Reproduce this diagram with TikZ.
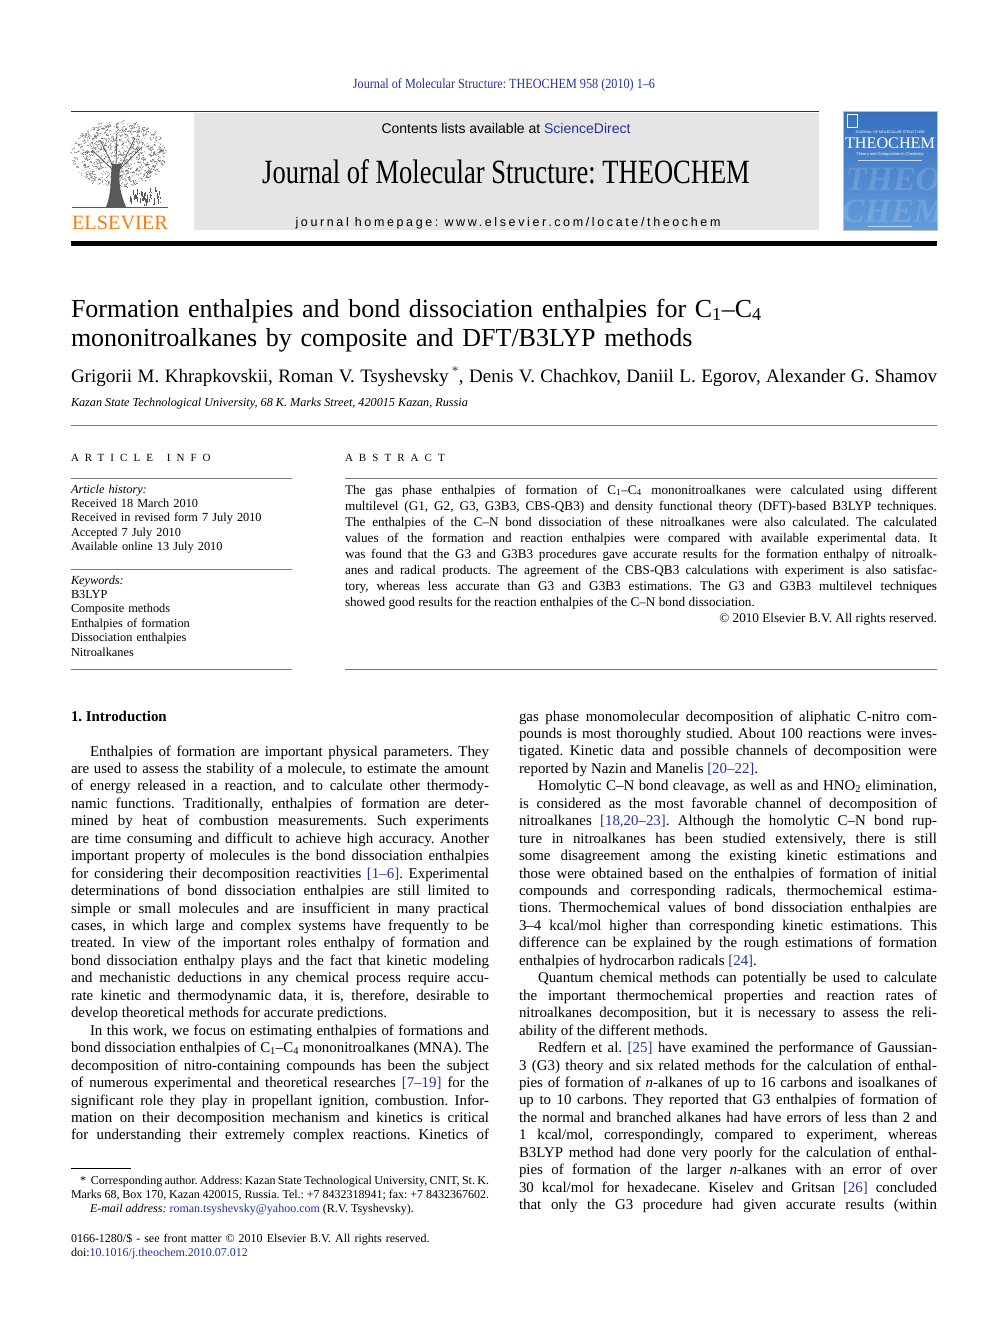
\documentclass[tikz,border=0pt]{standalone}
\usepackage{fontspec}
\setmainfont{Liberation Serif}
\setsansfont{Liberation Sans}
\usepackage{xcolor}
\definecolor{linkblue}{RGB}{38,50,150}
\definecolor{elsorange}{RGB}{242,125,20}
\definecolor{boxgray}{RGB}{229,229,229}
\definecolor{rulegray}{RGB}{120,120,120}
\definecolor{coverdark}{RGB}{55,112,188}
\definecolor{coverlight}{RGB}{98,156,220}
\frenchspacing
\newcommand{\bref}[1]{\textcolor{linkblue}{[#1]}}
\newcommand{\bodyfont}{\fontsize{14.9}{17.45}\selectfont\tolerance=9999\relax}
\newcommand{\abstractfont}{\fontsize{13.2}{16}\selectfont\tolerance=9999\relax}
\newcommand{\infofont}{\fontsize{12.3}{14.4}\selectfont}
\newcommand{\notefont}{\fontsize{12}{14}\selectfont\tolerance=9999\relax}
\newcommand{\spacedfont}{\fontsize{11}{13}\selectfont\addfontfeatures{LetterSpace=55}}
\newcommand{\journalfont}{\fontsize{34}{36}\selectfont\addfontfeatures{FakeStretch=0.78}}
\newcommand{\runheadfont}{\fontsize{14}{16}\selectfont\addfontfeatures{FakeStretch=0.87}}
\newcommand{\homepagefont}{\sffamily\fontsize{12.5}{14}\selectfont\addfontfeatures{LetterSpace=21}}
\tikzstyle{plaintext} = [inner sep=0, outer sep=0, anchor=base west]
\tikzstyle{bodycol} = [plaintext, text width=418pt, align=justify, font=\bodyfont]
\tikzstyle{infotext} = [plaintext, text width=222pt, align=left, font=\infofont]
\tikzstyle{thinrule} = [draw=rulegray, line width=0.7pt]
\tikzstyle{headrule} = [draw=black!80, line width=0.9pt]
\tikzstyle{treestroke} = [draw=black!65, line width=0.45pt]

\begin{document}
\begin{tikzpicture}[x=1pt,y=-1pt]
    \useasboundingbox (0,0) rectangle (992,1323);
    \fill[white] (0,0) rectangle (992,1323);

    % running head
    \node[plaintext, anchor=base, font=\runheadfont, text=linkblue] (runhead) at (504,88)
        {Journal of Molecular Structure: THEOCHEM 958 (2010) 1–6};

    % masthead
    \draw[headrule] (71,111) -- (819,111);
    \fill[boxgray] (194,113) rectangle (819,230);
    \node[plaintext, anchor=base, font=\sffamily\fontsize{14}{16}\selectfont] (contents) at (506,133)
        {Contents lists available at \textcolor{linkblue}{ScienceDirect}};
    \node[plaintext, anchor=base, font=\journalfont] (journal) at (506,183)
        {Journal of Molecular Structure: THEOCHEM};
    \node[plaintext, anchor=base, font=\homepagefont] (homepage) at (508,226)
        {journal homepage: www.elsevier.com/locate/theochem};

    % elsevier tree
    \pgfmathsetseed{42}
    \foreach \k in {1,...,900}{
        \pgfmathsetmacro{\ang}{360*rnd}
        \pgfmathsetmacro{\rad}{sqrt(rnd)}
        \draw[treestroke] ({119+48*\rad*cos(\ang)},{154+33*\rad*sin(\ang)}) -- ++({5*rnd-2.5},{4*rnd-2});
    }
    \fill[black!65] (106,207) .. controls (112,192) and (110,180) .. (112,164)
        -- (121,164) .. controls (117,182) and (121,195) .. (126,207) -- cycle;
    \draw[treestroke, line width=0.8pt] (113,170) -- (92,150) (119,170) -- (142,147) (116,166) -- (117,132)
        (114,168) -- (100,140) (120,168) -- (135,138);
    \foreach \k in {1,...,60}{
        \draw[treestroke] ({130+30*rnd},{192+14*rnd}) -- ++(0,{-6*rnd});
    }
    \draw[treestroke, line width=0.7pt] (72,207) -- (168,207);
    \node[plaintext, anchor=base, font=\fontsize{20.3}{22}\selectfont, text=elsorange] (elsevier) at (120,229) {ELSEVIER};

    % cover
    \shade[top color=coverdark, bottom color=coverlight] (843,111) rectangle (937,230);
    \begin{scope}
        \clip (843,111) rectangle (937,230);
        \node[plaintext, anchor=base, font=\bfseries\itshape\fontsize{34}{34}\selectfont, text=white, opacity=0.15] (coverbig1) at (893,190) {THEO};
        \node[plaintext, anchor=base, font=\bfseries\itshape\fontsize{34}{34}\selectfont, text=white, opacity=0.15] (coverbig2) at (893,222) {CHEM};
    \end{scope}
    \draw[white, line width=0.5pt] (847,114) rectangle (857,127);
    \node[plaintext, anchor=base, font=\sffamily\fontsize{3.6}{4}\selectfont, text=white] (coverhead) at (890,133) {JOURNAL OF MOLECULAR STRUCTURE};
    \node[plaintext, anchor=base, font=\fontsize{16.2}{17}\selectfont, text=white] (covertitle) at (890,148) {THEOCHEM};
    \node[plaintext, anchor=base, font=\sffamily\fontsize{4}{5}\selectfont, text=white] (coversub) at (890,155) {Theory and Computation in Chemistry};
    \draw[white, opacity=0.7, line width=0.8pt] (858,160) -- (922,160);
    \draw[white, opacity=0.6, line width=0.6pt] (868,226) -- (912,226);
    \draw[gray!50, line width=0.5pt] (843,111) rectangle (937,230);

    \fill[black] (71,241) rectangle (937,246);

    % title block
    \node[plaintext, text width=870pt, align=left, font=\fontsize{26}{29}\selectfont] (title) at (71,317)
        {Formation enthalpies and bond dissociation enthalpies for C\textsubscript{1}–C\textsubscript{4}\\
         mononitroalkanes by composite and DFT/B3LYP methods};
    \node[plaintext, text width=866pt, align=justify, font=\fontsize{19}{22}\selectfont] (authors) at (71,382)
        {Grigorii M. Khrapkovskii, Roman V. Tsyshevsky\,\textcolor{linkblue}{\textsuperscript{*}}, Denis V. Chachkov, Daniil L. Egorov, Alexander G. Shamov\parfillskip=0pt\par};
    \node[plaintext, font=\itshape\fontsize{12.2}{14}\selectfont] (affil) at (71,406)
        {Kazan State Technological University, 68 K. Marks Street, 420015 Kazan, Russia};
    \draw[thinrule] (71,425) -- (937,425);

    % article info
    \node[plaintext, font=\spacedfont] (infohead) at (71,461) {ARTICLE\hspace{5pt} INFO};
    \draw[thinrule] (71,478) -- (292,478);
    \node[infotext] (history) at (71,493)
        {\textit{Article history:}\\ Received 18 March 2010\\ Received in revised form 7 July 2010\\
         Accepted 7 July 2010\\ Available online 13 July 2010};
    \draw[thinrule] (71,569) -- (292,569);
    \node[infotext] (keywords) at (71,584)
        {\textit{Keywords:}\\ B3LYP\\ Composite methods\\ Enthalpies of formation\\ Dissociation enthalpies\\ Nitroalkanes};
    \draw[thinrule] (71,669) -- (292,669);

    % abstract
    \node[plaintext, font=\spacedfont] (abshead) at (345,461) {ABSTRACT};
    \draw[thinrule] (345,478) -- (937,478);
    \node[plaintext, text width=592pt, align=justify, font=\abstractfont] (abstract) at (345,494)
        {The gas phase enthalpies of formation of C\textsubscript{1}–C\textsubscript{4} mononitroalkanes were calculated using different\linebreak
         multilevel (G1, G2, G3, G3B3, CBS-QB3) and density functional theory (DFT)-based B3LYP techniques.\linebreak
         The enthalpies of the C–N bond dissociation of these nitroalkanes were also calculated. The calculated\linebreak
         values of the formation and reaction enthalpies were compared with available experimental data. It\linebreak
         was found that the G3 and G3B3 procedures gave accurate results for the formation enthalpy of nitroalk-\linebreak
         anes and radical products. The agreement of the CBS-QB3 calculations with experiment is also satisfac-\linebreak
         tory, whereas less accurate than G3 and G3B3 estimations. The G3 and G3B3 multilevel techniques\linebreak
         showed good results for the reaction enthalpies of the C–N bond dissociation.\par
         \hfill\copyright{} 2010 Elsevier B.V. All rights reserved.};
    \draw[thinrule] (345,669) -- (937,669);

    % introduction, left column
    \node[plaintext, font=\bfseries\fontsize{14.9}{17}\selectfont] (introhead) at (71,721) {1. Introduction};
    \node[bodycol] (leftcol) at (71,756)
        {\hspace*{19pt}Enthalpies of formation are important physical parameters. They\linebreak
         are used to assess the stability of a molecule, to estimate the amount\linebreak
         of energy released in a reaction, and to calculate other thermody-\linebreak
         namic functions. Traditionally, enthalpies of formation are deter-\linebreak
         mined by heat of combustion measurements. Such experiments\linebreak
         are time consuming and difficult to achieve high accuracy. Another\linebreak
         important property of molecules is the bond dissociation enthalpies\linebreak
         for considering their decomposition reactivities \bref{1–6}. Experimental\linebreak
         determinations of bond dissociation enthalpies are still limited to\linebreak
         simple or small molecules and are insufficient in many practical\linebreak
         cases, in which large and complex systems have frequently to be\linebreak
         treated. In view of the important roles enthalpy of formation and\linebreak
         bond dissociation enthalpy plays and the fact that kinetic modeling\linebreak
         and mechanistic deductions in any chemical process require accu-\linebreak
         rate kinetic and thermodynamic data, it is, therefore, desirable to\linebreak
         develop theoretical methods for accurate predictions.\par
         \hspace*{19pt}In this work, we focus on estimating enthalpies of formations and\linebreak
         bond dissociation enthalpies of C\textsubscript{1}–C\textsubscript{4} mononitroalkanes (MNA). The\linebreak
         decomposition of nitro-containing compounds has been the subject\linebreak
         of numerous experimental and theoretical researches \bref{7–19} for the\linebreak
         significant role they play in propellant ignition, combustion. Infor-\linebreak
         mation on their decomposition mechanism and kinetics is critical\linebreak
         for understanding their extremely complex reactions. Kinetics of\parfillskip=0pt\par};

    % introduction, right column
    \node[bodycol] (rightcol) at (519,721)
        {gas phase monomolecular decomposition of aliphatic C-nitro com-\linebreak
         pounds is most thoroughly studied. About 100 reactions were inves-\linebreak
         tigated. Kinetic data and possible channels of decomposition were\linebreak
         reported by Nazin and Manelis \bref{20–22}.\par
         \hspace*{19pt}Homolytic C–N bond cleavage, as well as and HNO\textsubscript{2} elimination,\linebreak
         is considered as the most favorable channel of decomposition of\linebreak
         nitroalkanes \bref{18,20–23}. Although the homolytic C–N bond rup-\linebreak
         ture in nitroalkanes has been studied extensively, there is still\linebreak
         some disagreement among the existing kinetic estimations and\linebreak
         those were obtained based on the enthalpies of formation of initial\linebreak
         compounds and corresponding radicals, thermochemical estima-\linebreak
         tions. Thermochemical values of bond dissociation enthalpies are\linebreak
         3–4 kcal/mol higher than corresponding kinetic estimations. This\linebreak
         difference can be explained by the rough estimations of formation\linebreak
         enthalpies of hydrocarbon radicals \bref{24}.\par
         \hspace*{19pt}Quantum chemical methods can potentially be used to calculate\linebreak
         the important thermochemical properties and reaction rates of\linebreak
         nitroalkanes decomposition, but it is necessary to assess the reli-\linebreak
         ability of the different methods.\par
         \hspace*{19pt}Redfern et al. \bref{25} have examined the performance of Gaussian-\linebreak
         3 (G3) theory and six related methods for the calculation of enthal-\linebreak
         pies of formation of \textit{n}-alkanes of up to 16 carbons and isoalkanes of\linebreak
         up to 10 carbons. They reported that G3 enthalpies of formation of\linebreak
         the normal and branched alkanes had have errors of less than 2 and\linebreak
         1 kcal/mol, correspondingly, compared to experiment, whereas\linebreak
         B3LYP method had done very poorly for the calculation of enthal-\linebreak
         pies of formation of the larger \textit{n}-alkanes with an error of over\linebreak
         30 kcal/mol for hexadecane. Kiselev and Gritsan \bref{26} concluded\linebreak
         that only the G3 procedure had given accurate results (within\parfillskip=0pt\par};

    % footnote and imprint
    \draw[black, line width=0.5pt] (71,1168) -- (131,1168);
    \node[plaintext, text width=418pt, align=justify, font=\notefont] (footnote) at (71,1184)
        {\hspace*{9pt}*\hspace{5pt}Corresponding author. Address: Kazan State Technological University, CNIT, St.~K.\linebreak
         Marks 68, Box 170, Kazan 420015, Russia. Tel.: +7 8432318941; fax: +7 8432367602.\par
         \hspace*{19pt}\textit{E-mail address:} \textcolor{linkblue}{roman.tsyshevsky@yahoo.com} (R.V. Tsyshevsky).};
    \node[plaintext, text width=418pt, align=left, font=\notefont] (imprint) at (71,1242)
        {0166-1280/\$ - see front matter \copyright{} 2010 Elsevier B.V. All rights reserved.\\
         doi:\textcolor{linkblue}{10.1016/j.theochem.2010.07.012}};
\end{tikzpicture}
\end{document}
